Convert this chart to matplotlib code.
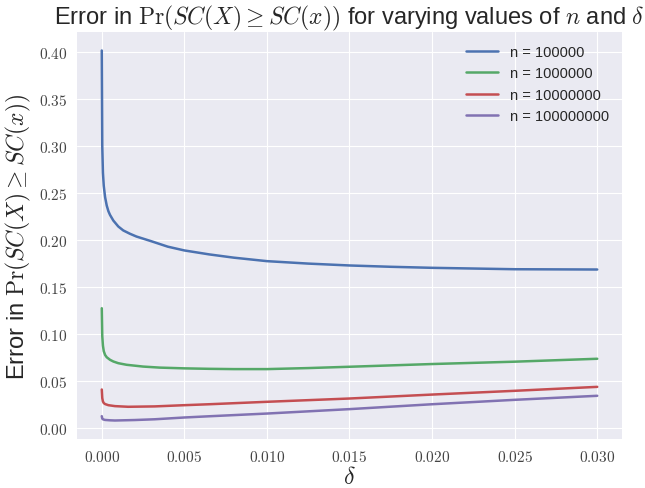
import matplotlib
matplotlib.use("Agg")
import matplotlib.pyplot as plt
from matplotlib.ticker import FuncFormatter, MultipleLocator

# values
delta_100k = [0.0, 0.00003, 0.00007, 0.00012, 0.0002, 0.0003, 0.0004, 0.0005, 0.0007, 0.001,
              0.0013, 0.0017, 0.0021, 0.003, 0.004, 0.005, 0.0065, 0.008, 0.010, 0.0125,
              0.015, 0.0175, 0.020, 0.025, 0.030]
err_100k = [0.402, 0.300, 0.272, 0.258, 0.246, 0.237, 0.231, 0.227, 0.221, 0.2147,
            0.2105, 0.2070, 0.2040, 0.1990, 0.1932, 0.1892, 0.1850, 0.1815, 0.1778, 0.1752,
            0.1732, 0.1718, 0.1707, 0.1692, 0.1689]

delta_1m = [0.0, 0.00003, 0.00007, 0.00012, 0.0002, 0.0003, 0.0005, 0.0007, 0.001, 0.0015,
            0.0025, 0.0035, 0.005, 0.0065, 0.008, 0.010, 0.0125, 0.015, 0.020, 0.025, 0.030]
err_1m = [0.1277, 0.098, 0.088, 0.082, 0.078, 0.0755, 0.0728, 0.0710, 0.0692, 0.0675,
          0.0656, 0.0645, 0.0637, 0.0632, 0.0629, 0.0629, 0.0640, 0.0654, 0.0683, 0.0708, 0.0739]

delta_10m = [0.0, 0.00003, 0.00007, 0.00012, 0.0002, 0.0004, 0.0008, 0.0016, 0.0032, 0.005,
             0.0065, 0.010, 0.015, 0.020, 0.025, 0.030]
err_10m = [0.0412, 0.032, 0.0285, 0.0268, 0.0257, 0.0245, 0.0235, 0.0228, 0.0232, 0.0245,
           0.0255, 0.0281, 0.0316, 0.0358, 0.0398, 0.0440]

delta_100m = [0.0, 0.00003, 0.00008, 0.0002, 0.0005, 0.0008, 0.002, 0.0032, 0.005, 0.0065,
              0.010, 0.015, 0.020, 0.025, 0.030]
err_100m = [0.0128, 0.0102, 0.0094, 0.0088, 0.0084, 0.0082, 0.0087, 0.0095, 0.0114, 0.0127,
            0.0156, 0.0203, 0.0255, 0.0302, 0.0345]

labels = ["n = 100000", "n = 1000000", "n = 10000000", "n = 100000000"]
colors = ["#4C72B0", "#55A868", "#C44E52", "#8172B2"]

plt.style.use("seaborn-v0_8-darkgrid")
plt.rcParams["font.family"] = ["Liberation Sans", "DejaVu Sans"]
plt.rcParams["mathtext.fontset"] = "cm"

fig = plt.figure(figsize=(6.45, 4.89), dpi=100)
ax = fig.add_axes([77 / 645, 49 / 489, 545 / 645, 407 / 489])

series = [(delta_100k, err_100k), (delta_1m, err_1m), (delta_10m, err_10m), (delta_100m, err_100m)]
for (d, e), lab, col in zip(series, labels, colors):
    ax.plot(d, e, color=col, lw=1.8, label=lab)

ax.xaxis.set_major_locator(MultipleLocator(0.005))
ax.yaxis.set_major_locator(MultipleLocator(0.05))
ax.xaxis.set_major_formatter(FuncFormatter(lambda v, p: "$%.3f$" % v))
ax.yaxis.set_major_formatter(FuncFormatter(lambda v, p: "$%.2f$" % v))
ax.tick_params(axis="both", labelsize=11, colors="#444444", pad=7)

ax.set_title(r"Error in $\Pr(SC(X) \geq SC(x))$ for varying values of $n$ and $\delta$",
             fontsize=17, pad=6)
ax.set_ylabel(r"Error in $\Pr(SC(X) \geq SC(x))$", fontsize=17)
ax.set_xlabel(r"$\delta$", fontsize=17, labelpad=2)

ax.legend(loc="upper right", fontsize=10.5, frameon=False, handlelength=2.2)

fig.savefig("out.png", dpi=100)
